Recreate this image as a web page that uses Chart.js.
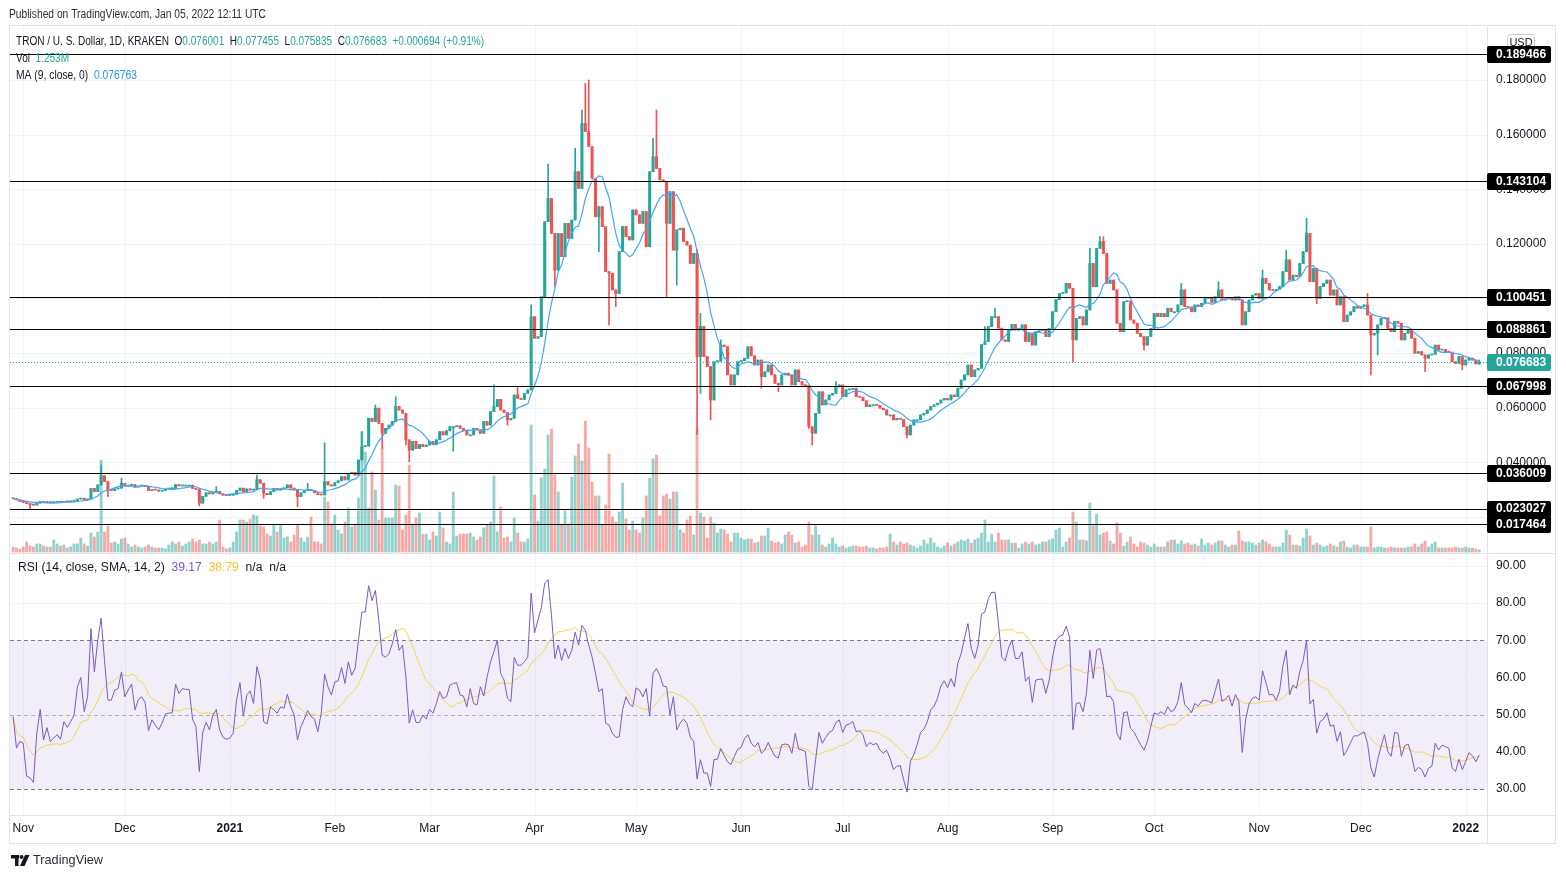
<!DOCTYPE html>
<html>
<head>
<meta charset="utf-8">
<title>TRON / U. S. Dollar, 1D, KRAKEN</title>
<script src="https://cdn.jsdelivr.net/npm/chart.js@4.4.1/dist/chart.umd.min.js"></script>
<style>
  html, body { margin: 0; padding: 0; background: #fff; }
  #wrap { position: relative; width: 1566px; height: 878px; }
</style>
</head>
<body>
<div id="wrap"><canvas id="chart" width="1566" height="878"></canvas></div>
<script>
// daily closes, 29 Oct 2020 .. 05 Jan 2022
const closes = [
  0.0266, 0.0262, 0.0256, 0.0252, 0.0248, 0.0245, 0.0243, 0.0250, 0.0256, 0.0252,
  0.0255, 0.0252, 0.0253, 0.0254, 0.0253, 0.0256, 0.0255, 0.0257, 0.0259, 0.0265,
  0.0268, 0.0262, 0.0264, 0.0304, 0.0292, 0.0317, 0.0350, 0.0329, 0.0298, 0.0296,
  0.0302, 0.0305, 0.0323, 0.0312, 0.0315, 0.0318, 0.0309, 0.0313, 0.0314, 0.0311,
  0.0296, 0.0300, 0.0298, 0.0294, 0.0297, 0.0302, 0.0303, 0.0304, 0.0318, 0.0313,
  0.0316, 0.0316, 0.0316, 0.0304, 0.0300, 0.0250, 0.0275, 0.0288, 0.0284, 0.0290,
  0.0293, 0.0284, 0.0279, 0.0278, 0.0279, 0.0282, 0.0296, 0.0305, 0.0292, 0.0302,
  0.0298, 0.0300, 0.0336, 0.0323, 0.0286, 0.0281, 0.0292, 0.0304, 0.0298, 0.0301,
  0.0306, 0.0317, 0.0305, 0.0298, 0.0274, 0.0288, 0.0296, 0.0301, 0.0296, 0.0288,
  0.0281, 0.0280, 0.0329, 0.0317, 0.0313, 0.0325, 0.0332, 0.0347, 0.0335, 0.0359,
  0.0362, 0.0353, 0.0408, 0.0457, 0.0459, 0.0561, 0.0549, 0.0598, 0.0542, 0.0506,
  0.0524, 0.0536, 0.0549, 0.0604, 0.0591, 0.0579, 0.0482, 0.0444, 0.0476, 0.0450,
  0.0465, 0.0457, 0.0463, 0.0476, 0.0465, 0.0482, 0.0512, 0.0500, 0.0515, 0.0530,
  0.0530, 0.0533, 0.0524, 0.0515, 0.0500, 0.0500, 0.0524, 0.0518, 0.0506, 0.0549,
  0.0536, 0.0585, 0.0604, 0.0630, 0.0591, 0.0582, 0.0555, 0.0561, 0.0646, 0.0634,
  0.0630, 0.0652, 0.0665, 0.0933, 0.0854, 0.0860, 0.1006, 0.1281, 0.1366, 0.1238,
  0.1104, 0.1238, 0.1153, 0.1275, 0.1220, 0.1287, 0.1464, 0.1403, 0.1641, 0.1611,
  0.1556, 0.1440, 0.1299, 0.1336, 0.1263, 0.1098, 0.1092, 0.1031, 0.1018, 0.1171,
  0.1263, 0.1226, 0.1214, 0.1324, 0.1306, 0.1275, 0.1318, 0.1189, 0.1464, 0.1519,
  0.1476, 0.1434, 0.1428, 0.1275, 0.1391, 0.1177, 0.1251, 0.1257, 0.1208, 0.1195,
  0.1128, 0.1165, 0.0787, 0.0897, 0.0787, 0.0750, 0.0628, 0.0768, 0.0770, 0.0829,
  0.0823, 0.0720, 0.0683, 0.0720, 0.0768, 0.0772, 0.0781, 0.0823, 0.0790, 0.0756,
  0.0774, 0.0713, 0.0731, 0.0756, 0.0720, 0.0689, 0.0683, 0.0720, 0.0726, 0.0720,
  0.0683, 0.0738, 0.0695, 0.0683, 0.0680, 0.0530, 0.0506, 0.0579, 0.0658, 0.0610,
  0.0628, 0.0646, 0.0652, 0.0676, 0.0683, 0.0640, 0.0665, 0.0667, 0.0671, 0.0640,
  0.0638, 0.0625, 0.0604, 0.0610, 0.0610, 0.0608, 0.0598, 0.0592, 0.0573, 0.0573,
  0.0555, 0.0561, 0.0557, 0.0530, 0.0500, 0.0536, 0.0555, 0.0555, 0.0573, 0.0579,
  0.0591, 0.0604, 0.0610, 0.0616, 0.0628, 0.0634, 0.0628, 0.0646, 0.0640, 0.0671,
  0.0701, 0.0720, 0.0756, 0.0713, 0.0738, 0.0744, 0.0831, 0.0842, 0.0897, 0.0933,
  0.0933, 0.0891, 0.0848, 0.0842, 0.0884, 0.0905, 0.0884, 0.0886, 0.0903, 0.0842,
  0.0872, 0.0829, 0.0878, 0.0882, 0.0884, 0.0860, 0.0890, 0.0951, 0.0996, 0.1018,
  0.1020, 0.1055, 0.1037, 0.0848, 0.0927, 0.0933, 0.0903, 0.0958, 0.1128, 0.1043,
  0.1183, 0.1208, 0.1165, 0.1055, 0.1067, 0.1031, 0.0909, 0.0878, 0.0988, 0.0990,
  0.0921, 0.0909, 0.0872, 0.0860, 0.0829, 0.0860, 0.0890, 0.0945, 0.0933, 0.0945,
  0.0933, 0.0964, 0.0951, 0.0951, 0.0976, 0.1031, 0.0970, 0.0968, 0.0951, 0.0976,
  0.0970, 0.0982, 0.1000, 0.1003, 0.0985, 0.1006, 0.1031, 0.0994, 0.0998, 0.1002,
  0.0994, 0.1006, 0.0994, 0.0903, 0.0951, 0.0994, 0.1012, 0.1018, 0.1000, 0.1073,
  0.1055, 0.1031, 0.1028, 0.1033, 0.1043, 0.1098, 0.1141, 0.1067, 0.1085, 0.1080,
  0.1128, 0.1171, 0.1238, 0.1061, 0.1110, 0.1000, 0.1043, 0.1055, 0.1067, 0.1012,
  0.1031, 0.0976, 0.1006, 0.0915, 0.0939, 0.0951, 0.0970, 0.0964, 0.0970, 0.0976,
  0.0939, 0.0866, 0.0872, 0.0903, 0.0927, 0.0929, 0.0890, 0.0878, 0.0915, 0.0909,
  0.0848, 0.0872, 0.0884, 0.0854, 0.0799, 0.0805, 0.0793, 0.0781, 0.0793, 0.0795,
  0.0829, 0.0811, 0.0813, 0.0805, 0.0803, 0.0768, 0.0762, 0.0787, 0.0756, 0.0774,
  0.0781, 0.0774, 0.075989, 0.076683
];
const firstOpen = 0.0268;
const lastOpen = 0.076001;

// wick extremes that stand out from the bodies: [day index, price]
const wickHighs = [
  [26, 0.0390], [32, 0.0342], [60, 0.0310], [72, 0.0353], [87, 0.0323], [92, 0.0471],
  [103, 0.0512], [107, 0.0610], [113, 0.0640], [142, 0.0683], [149, 0.0676], [153, 0.0976],
  [158, 0.1492], [166, 0.1550], [168, 0.1690], [169, 0.1788], [170, 0.1800], [189, 0.1586],
  [190, 0.1690], [202, 0.1180], [203, 0.0945], [209, 0.0848], [243, 0.0695], [287, 0.0897],
  [290, 0.0964], [318, 0.1183], [321, 0.1226], [322, 0.1226], [345, 0.1055], [356, 0.1061],
  [369, 0.1104], [376, 0.1177], [382, 0.1293], [400, 0.1018], [433, 0.077455]
];
const wickLows = [
  [5, 0.0231], [28, 0.0274], [55, 0.0240], [74, 0.0268], [84, 0.0237], [109, 0.0451],
  [116, 0.0463], [117, 0.0402], [130, 0.0440], [146, 0.0536], [160, 0.1043], [173, 0.1171],
  [176, 0.0903], [178, 0.0970], [193, 0.1006], [196, 0.1049], [202, 0.0502], [203, 0.0652],
  [206, 0.0555], [221, 0.0671], [226, 0.0658], [235, 0.0524], [236, 0.0463], [264, 0.0488],
  [313, 0.0768], [334, 0.0811], [385, 0.0980], [401, 0.0720], [403, 0.0793], [417, 0.0732],
  [428, 0.0738], [433, 0.075835]
];

// volume, millions
const volumes = [
  3.0, 2.4, 1.8, 3.0, 6.0, 3.6, 3.0, 4.8, 4.8, 3.6,
  3.0, 3.0, 7.2, 4.8, 3.6, 4.2, 2.4, 3.0, 4.8, 4.8,
  8.4, 4.8, 3.6, 11.4, 9.0, 12.0, 55.2, 12.0, 15.6, 5.4,
  6.0, 4.8, 7.8, 8.4, 4.8, 3.0, 4.2, 3.0, 2.4, 3.0,
  4.2, 3.0, 2.4, 2.4, 2.4, 1.8, 4.2, 6.0, 4.8, 6.0,
  3.6, 4.8, 6.0, 7.8, 6.0, 7.2, 4.8, 4.8, 6.0, 4.8,
  6.0, 19.2, 3.0, 1.8, 2.4, 6.0, 12.0, 19.2, 19.2, 18.0,
  19.8, 22.2, 21.6, 15.6, 15.0, 10.8, 9.6, 16.2, 12.0, 16.2,
  8.4, 9.0, 6.0, 10.2, 16.8, 8.4, 6.0, 9.0, 21.0, 6.0,
  6.0, 4.8, 33.0, 30.0, 16.8, 22.2, 13.2, 10.8, 18.0, 26.4,
  15.0, 16.8, 32.4, 72.0, 60.0, 26.4, 48.0, 37.2, 19.2, 62.4,
  20.4, 20.4, 20.4, 40.2, 39.6, 13.2, 22.2, 52.2, 16.2, 20.4,
  23.4, 10.8, 10.8, 7.2, 12.0, 9.6, 24.0, 14.4, 6.0, 4.8,
  36.0, 9.6, 10.8, 10.8, 10.8, 11.4, 9.0, 7.2, 9.0, 14.4,
  16.2, 18.0, 45.6, 12.0, 27.0, 8.4, 9.0, 6.0, 20.4, 11.4,
  6.0, 6.0, 7.8, 76.2, 34.2, 18.6, 44.4, 49.8, 70.2, 73.8,
  46.2, 36.0, 16.8, 24.6, 16.8, 45.0, 57.6, 64.8, 54.6, 78.6,
  62.4, 42.0, 33.6, 33.6, 16.2, 28.2, 58.8, 21.0, 18.0, 24.0,
  41.4, 19.8, 13.2, 18.6, 13.2, 11.4, 20.4, 33.6, 44.4, 55.8,
  58.2, 21.6, 33.6, 34.8, 31.8, 36.0, 36.0, 13.2, 11.4, 19.2,
  21.6, 10.2, 74.4, 23.4, 21.0, 8.4, 21.0, 17.4, 11.4, 13.8,
  13.2, 10.8, 6.0, 11.4, 11.4, 8.4, 7.2, 7.8, 7.8, 5.4,
  6.0, 9.6, 9.6, 14.4, 6.6, 5.4, 6.0, 4.8, 10.2, 12.0,
  10.2, 5.4, 6.0, 3.0, 4.2, 18.0, 10.2, 15.6, 10.2, 4.2,
  3.0, 4.8, 8.4, 4.8, 3.0, 3.6, 2.4, 3.0, 3.6, 3.6,
  3.0, 3.0, 3.6, 2.4, 2.4, 1.8, 2.4, 2.4, 3.0, 10.8,
  6.0, 4.2, 6.0, 4.8, 5.4, 4.2, 3.6, 2.4, 3.6, 7.2,
  4.8, 8.4, 5.4, 3.0, 2.4, 3.6, 5.4, 3.6, 4.8, 6.0,
  7.2, 6.6, 7.8, 5.4, 7.2, 8.4, 11.4, 19.2, 6.0, 10.8,
  6.0, 11.4, 7.2, 7.2, 7.2, 5.4, 5.4, 2.4, 4.8, 6.0,
  4.8, 6.0, 4.2, 4.8, 6.0, 6.0, 7.2, 7.8, 13.2, 14.4,
  3.0, 6.0, 8.4, 24.0, 18.0, 7.2, 7.2, 6.6, 29.4, 15.6,
  22.8, 10.2, 11.4, 12.0, 6.6, 4.8, 17.4, 11.4, 3.6, 6.0,
  9.0, 4.8, 3.0, 6.0, 5.4, 4.2, 3.0, 4.8, 3.0, 3.0,
  3.0, 6.0, 7.2, 7.2, 4.8, 6.6, 4.8, 5.4, 4.2, 4.8,
  3.6, 7.8, 4.2, 5.4, 4.2, 5.4, 6.6, 6.6, 4.2, 3.0,
  4.2, 4.2, 12.6, 6.6, 6.0, 6.0, 5.4, 4.2, 5.4, 7.2,
  6.0, 4.8, 3.0, 3.0, 3.0, 5.4, 13.2, 10.2, 4.2, 4.2,
  3.6, 8.4, 13.8, 9.6, 4.2, 5.4, 4.2, 3.0, 3.6, 4.8,
  3.6, 3.0, 6.0, 6.6, 3.0, 2.4, 4.2, 4.2, 3.0, 3.0,
  3.0, 15.0, 2.4, 3.0, 3.0, 2.4, 2.4, 3.0, 2.4, 2.4,
  2.4, 2.4, 3.0, 3.0, 4.8, 3.0, 4.8, 6.6, 3.0, 4.8,
  6.0, 2.4, 2.4, 2.4, 2.4, 2.4, 3.0, 2.4, 2.4, 3.0,
  2.4, 2.4, 1.8, 1.253
];

// RSI(14) as plotted
const rsi = [
  49.5, 41.0, 42.8, 42.3, 33.4, 33.0, 31.8, 45.0, 51.4, 43.2,
  46.5, 42.8, 43.7, 44.6, 43.4, 48.1, 46.6, 48.1, 49.9, 57.5,
  60.0, 50.8, 54.8, 73.1, 61.5, 70.0, 76.0, 64.6, 53.9, 53.9,
  56.6, 57.0, 61.5, 54.8, 56.6, 58.2, 51.3, 54.1, 54.8, 53.2,
  45.7, 48.6, 47.2, 45.9, 47.7, 50.2, 50.4, 50.5, 58.2, 55.7,
  57.0, 56.8, 56.8, 48.8, 46.8, 34.7, 45.2, 47.9, 45.9, 49.9,
  51.4, 45.9, 43.9, 43.4, 43.7, 45.0, 53.9, 58.6, 49.6, 55.2,
  56.4, 53.0, 62.9, 59.5, 48.1, 47.5, 52.1, 51.3, 50.4, 52.1,
  51.7, 55.5, 52.1, 49.9, 43.2, 46.8, 48.8, 51.1, 49.5, 48.8,
  45.4, 50.4, 60.9, 57.5, 55.3, 58.8, 59.1, 62.7, 58.4, 64.2,
  60.6, 62.4, 70.0, 77.6, 77.6, 84.7, 80.7, 83.4, 75.4, 66.0,
  65.5, 66.4, 69.1, 72.9, 67.3, 68.7, 60.2, 47.7, 51.3, 47.9,
  47.9, 49.9, 48.8, 51.4, 50.4, 53.0, 56.2, 54.4, 54.8, 57.9,
  58.4, 58.6, 55.3, 55.0, 52.1, 57.0, 53.0, 52.6, 57.5, 55.0,
  60.2, 64.2, 66.9, 70.0, 61.1, 59.3, 54.4, 53.5, 65.4, 63.3,
  63.3, 64.2, 65.5, 82.7, 72.0, 75.4, 78.8, 85.4, 86.3, 76.7,
  65.1, 68.7, 64.6, 67.8, 65.1, 67.3, 72.2, 68.7, 74.0, 72.7,
  68.7, 65.5, 61.1, 56.2, 57.0, 47.7, 47.2, 45.0, 43.9, 44.0,
  51.3, 54.8, 52.9, 52.1, 57.2, 56.6, 54.8, 57.0, 49.6, 61.1,
  62.4, 60.6, 57.7, 57.5, 49.9, 54.8, 45.9, 47.7, 48.8, 47.7,
  44.0, 42.8, 32.7, 37.9, 34.3, 34.3, 30.7, 37.9, 38.0, 40.9,
  39.0, 37.3, 36.6, 38.7, 40.7, 41.2, 43.5, 44.6, 42.3, 41.3,
  42.5, 39.6, 40.5, 42.5, 40.5, 38.8, 38.3, 41.9, 42.1, 41.9,
  39.6, 45.0, 40.7, 40.5, 40.1, 30.7, 29.8, 37.9, 45.2, 42.3,
  43.9, 45.2, 45.7, 47.9, 48.6, 45.2, 47.2, 47.5, 48.1, 45.4,
  45.7, 44.6, 41.4, 42.5, 41.9, 42.3, 40.5, 39.6, 40.4, 38.3,
  35.2, 36.1, 36.3, 32.5, 29.2, 37.4, 39.2, 41.9, 45.2, 46.1,
  48.1, 51.3, 52.3, 54.4, 57.7, 59.1, 57.3, 59.7, 57.5, 63.8,
  66.4, 70.7, 74.5, 67.8, 65.1, 68.7, 77.1, 77.6, 81.2, 82.9,
  82.9, 74.5, 65.4, 64.5, 68.0, 70.0, 65.1, 65.1, 66.9, 59.0,
  60.2, 53.3, 59.3, 59.5, 59.6, 55.7, 59.3, 65.5, 70.0, 71.1,
  71.4, 73.8, 70.9, 45.9, 53.0, 53.2, 50.8, 55.7, 67.3, 59.7,
  67.3, 67.8, 62.9, 54.8, 55.0, 53.5, 45.0, 43.2, 50.5, 50.8,
  46.3, 45.4, 43.6, 41.9, 40.5, 42.8, 46.8, 50.5, 50.0, 50.8,
  50.0, 52.1, 50.8, 51.4, 53.5, 58.6, 52.7, 51.8, 50.5, 53.0,
  52.3, 53.6, 53.9, 53.6, 53.2, 56.3, 59.6, 53.6, 54.1, 55.2,
  52.3, 55.4, 53.6, 39.8, 48.6, 52.9, 54.4, 54.8, 53.9, 61.8,
  58.6, 55.3, 55.5, 53.9, 56.2, 63.0, 67.3, 55.3, 58.0, 57.1,
  61.6, 64.6, 70.0, 52.9, 54.1, 45.0, 48.1, 48.8, 50.5, 46.9,
  47.2, 42.8, 45.4, 39.0, 40.5, 42.5, 44.3, 44.3, 44.8, 45.4,
  42.3, 35.6, 33.2, 37.9, 41.4, 44.6, 40.1, 38.8, 45.2, 45.0,
  38.8, 41.6, 42.1, 39.2, 34.7, 35.8, 35.3, 33.2, 35.6, 36.1,
  42.3, 40.5, 41.8, 41.4, 41.0, 35.6, 34.7, 38.0, 35.2, 37.4,
  39.8, 38.9, 37.3, 39.17
];

// horizontal levels drawn on the chart
const levels = [0.189466, 0.143104, 0.100451, 0.088861, 0.067998, 0.036009, 0.023027, 0.017464];
const priceTicks = [0.18, 0.16, 0.14, 0.12, 0.10, 0.08, 0.06, 0.04, 0.02];
const rsiTicks = [90, 80, 70, 60, 50, 40, 30];
const monthIdx = [3, 33, 64, 95, 123, 154, 184, 215, 245, 276, 307, 337, 368, 398, 429];
const monthLabels = ['Nov', 'Dec', '2021', 'Feb', 'Mar', 'Apr', 'May', 'Jun', 'Jul', 'Aug', 'Sep', 'Oct', 'Nov', 'Dec', '2022'];

// ---- derived series ----
const n = closes.length;
const idx = closes.map((c, i) => i);
const opens = closes.map((c, i) => i === 0 ? firstOpen : closes[i - 1]);
opens[n - 1] = lastOpen;
const highs = closes.map((c, i) => Math.max(c, opens[i]));
const lows = closes.map((c, i) => Math.min(c, opens[i]));
wickHighs.forEach(function (p) { highs[p[0]] = Math.max(highs[p[0]], p[1]); });
wickLows.forEach(function (p) { lows[p[0]] = Math.min(lows[p[0]], p[1]); });

function sma(arr, len) {
  return arr.map(function (v, i) {
    var from = Math.max(0, i - len + 1), s = 0;
    for (var k = from; k <= i; k++) s += arr[k];
    return s / (i - from + 1);
  });
}
const ma9 = sma(closes, 9);
const rsiMa = sma(rsi, 14);

const UP = '#26a69a', DOWN = '#ef5350';
const candleCol = idx.map(i => closes[i] >= opens[i] ? UP : DOWN);
const volCol = idx.map(i => closes[i] >= opens[i] ? 'rgba(38,166,154,0.5)' : 'rgba(239,83,80,0.5)');

const FONT = '"Liberation Sans", Arial, sans-serif';
const TXT = '#131722';
const LINE = '#e0e3eb';
const GRID = '#f0f3fa';

// pane geometry (pixels)
const PANE_L = 10, PANE_R = 1487, TOP = 26, PRICE_BOTTOM = 553, BOTTOM = 815, FRAME_B = 843, FRAME_R = 1555;

function segText(ctx, segs, x, y, width, font) {
  ctx.save();
  ctx.font = font;
  ctx.textBaseline = 'middle';
  ctx.textAlign = 'left';
  var total = 0;
  segs.forEach(function (g) { total += ctx.measureText(g[0]).width; });
  var k = width ? width / total : 1;
  ctx.translate(x, y);
  ctx.scale(k, 1);
  var cx = 0;
  segs.forEach(function (g) {
    ctx.fillStyle = g[1];
    ctx.fillText(g[0], cx, 0);
    cx += ctx.measureText(g[0]).width;
  });
  ctx.restore();
}

function hline(ctx, y, x0, x1, color, dash, width) {
  ctx.save();
  ctx.strokeStyle = color;
  ctx.lineWidth = width || 1;
  ctx.setLineDash(dash || []);
  ctx.beginPath();
  var yy = Math.round(y) + 0.5;
  ctx.moveTo(x0, yy); ctx.lineTo(x1, yy);
  ctx.stroke();
  ctx.restore();
}
function vline(ctx, x, y0, y1, color) {
  ctx.save();
  ctx.strokeStyle = color;
  ctx.lineWidth = 1;
  ctx.beginPath();
  var xx = Math.round(x) + 0.5;
  ctx.moveTo(xx, y0); ctx.lineTo(xx, y1);
  ctx.stroke();
  ctx.restore();
}

const tvChrome = {
  id: 'tvChrome',
  beforeDraw(chart) {
    const ctx = chart.ctx, s = chart.scales;
    ctx.save();
    ctx.fillStyle = '#fff';
    ctx.fillRect(0, 0, chart.width, chart.height);
    // vertical grid
    monthIdx.forEach(i => vline(ctx, s.x.getPixelForValue(i), TOP, BOTTOM, GRID));
    // price grid
    priceTicks.forEach(v => hline(ctx, s.y.getPixelForValue(v), PANE_L, PANE_R, GRID));
    // rsi band + grid
    const y70 = s.yRsi.getPixelForValue(70), y30 = s.yRsi.getPixelForValue(30);
    ctx.fillStyle = 'rgba(126,87,194,0.1)';
    ctx.fillRect(PANE_L, y70, PANE_R - PANE_L, y30 - y70);
    [90, 80, 60, 40].forEach(v => hline(ctx, s.yRsi.getPixelForValue(v), PANE_L, PANE_R, GRID));
    hline(ctx, y70, PANE_L, PANE_R, '#787b86', [4, 3]);
    hline(ctx, s.yRsi.getPixelForValue(50), PANE_L, PANE_R, 'rgba(120,123,134,0.55)', [4, 3]);
    hline(ctx, y30, PANE_L, PANE_R, '#787b86', [4, 3]);
    ctx.restore();
  },
  afterDatasetsDraw(chart) {
    const ctx = chart.ctx, s = chart.scales;
    // level lines
    levels.forEach(v => hline(ctx, s.y.getPixelForValue(v), PANE_L, PANE_R, '#000'));
    // last price dotted line
    const lastY = s.y.getPixelForValue(closes[n - 1]);
    hline(ctx, lastY, PANE_L, PANE_R, UP, [1, 2]);

    ctx.save();
    // clear axis column and time row
    ctx.fillStyle = '#fff';
    ctx.fillRect(PANE_R + 1, TOP, FRAME_R - PANE_R - 1, FRAME_B - TOP);
    ctx.fillRect(PANE_L, BOTTOM + 1, PANE_R - PANE_L, FRAME_B - BOTTOM - 1);

    // pane borders
    hline(ctx, PRICE_BOTTOM, PANE_L, FRAME_R, LINE);
    hline(ctx, BOTTOM, PANE_L, FRAME_R, LINE);
    vline(ctx, PANE_R, TOP, FRAME_B, LINE);
    ctx.strokeStyle = LINE;
    ctx.lineWidth = 1;
    ctx.strokeRect(9.5, 25.5, FRAME_R - 9, FRAME_B - 25);

    // price axis ticks
    ctx.font = '12px ' + FONT;
    ctx.textBaseline = 'middle';
    ctx.textAlign = 'left';
    ctx.fillStyle = TXT;
    priceTicks.forEach(v => ctx.fillText(v.toFixed(6), 1496, s.y.getPixelForValue(v)));
    rsiTicks.forEach(v => ctx.fillText(v.toFixed(2), 1496, s.yRsi.getPixelForValue(v)));

    // USD badge
    ctx.strokeStyle = '#c9cbd1';
    ctx.fillStyle = '#fff';
    ctx.beginPath();
    ctx.roundRect(1507.5, 34.5, 27, 15, 3);
    ctx.fill(); ctx.stroke();
    ctx.fillStyle = TXT;
    ctx.font = '11px ' + FONT;
    ctx.textAlign = 'center';
    ctx.fillText('USD', 1521, 42.5);

    // level labels
    ctx.textAlign = 'left';
    ctx.font = 'bold 12px ' + FONT;
    levels.forEach(v => {
      const py = s.y.getPixelForValue(v);
      ctx.fillStyle = '#000';
      ctx.beginPath();
      ctx.roundRect(1487, Math.round(py) - 8, 64, 17, 2);
      ctx.fill();
      ctx.fillStyle = '#fff';
      ctx.fillText(v.toFixed(6), 1496, py + 0.5);
    });
    ctx.fillStyle = UP;
    ctx.beginPath();
    ctx.roundRect(1487, Math.round(lastY) - 8, 64, 17, 2);
    ctx.fill();
    ctx.fillStyle = '#fff';
    ctx.fillText(closes[n - 1].toFixed(6), 1496, lastY + 0.5);

    // time axis
    ctx.textAlign = 'center';
    monthIdx.forEach((i, k) => {
      const yr = /^\d{4}$/.test(monthLabels[k]);
      ctx.font = (yr ? 'bold ' : '') + '12px ' + FONT;
      ctx.fillStyle = TXT;
      ctx.fillText(monthLabels[k], s.x.getPixelForValue(i), 829);
    });
    ctx.restore();

    // legends
    const f12 = '12px ' + FONT;
    segText(ctx, [['Published on TradingView.com, Jan 05, 2022 12:11 UTC', '#2a2e39']], 9, 14.5, 257, f12);
    const chg = closes[n - 1] - closes[n - 2];
    segText(ctx, [
      ['TRON / U. S. Dollar, 1D, KRAKEN  O', TXT], [lastOpen.toFixed(6), UP],
      ['  H', TXT], [highs[n - 1].toFixed(6), UP],
      ['  L', TXT], [lows[n - 1].toFixed(6), UP],
      ['  C', TXT], [closes[n - 1].toFixed(6), UP],
      ['  +' + chg.toFixed(6) + ' (+' + (chg / closes[n - 2] * 100).toFixed(2) + '%)', UP]
    ], 16, 41.5, 468, f12);
    segText(ctx, [['Vol  ', TXT], [volumes[n - 1].toFixed(3) + 'M', UP]], 16, 58.5, 53, f12);
    segText(ctx, [['MA (9, close, 0)  ', TXT], ['0.076763', '#2196f3']], 16, 75.5, 121, f12);
    segText(ctx, [['RSI (14, close, SMA, 14, 2)  ', TXT], [rsi[n - 1].toFixed(2), '#7e57c2'],
      ['  ', TXT], [rsiMa[n - 1].toFixed(2), '#f0c929'], ['  n/a  n/a', TXT]], 18, 568, 268, f12);

    // TradingView logo
    ctx.save();
    ctx.fillStyle = '#131722';
    ctx.fillRect(11, 855, 8, 3.5);
    ctx.fillRect(15, 855, 3.5, 11);
    ctx.beginPath(); ctx.arc(21.5, 857, 2, 0, Math.PI * 2); ctx.fill();
    ctx.beginPath();
    ctx.moveTo(25, 855); ctx.lineTo(29.5, 855); ctx.lineTo(24.5, 866); ctx.lineTo(20, 866);
    ctx.closePath(); ctx.fill();
    ctx.restore();
    segText(ctx, [['TradingView', '#2a2e39']], 33, 860.5, 70, '13px ' + FONT);
  }
};

const ctx = document.getElementById('chart').getContext('2d');
const chart = new Chart(ctx, {
  type: 'bar',
  data: {
    datasets: [
      {
        type: 'line', label: 'RSI', yAxisID: 'yRsi',
        data: idx.map(i => ({ x: i, y: rsi[i] })),
        borderColor: '#7e57c2', borderWidth: 1, pointRadius: 0, tension: 0, order: 1
      },
      {
        type: 'line', label: 'RSI MA', yAxisID: 'yRsi',
        data: idx.map(i => ({ x: i, y: rsiMa[i] })),
        borderColor: '#f5d547', borderWidth: 1, pointRadius: 0, tension: 0, order: 2
      },
      {
        type: 'line', label: 'MA 9', yAxisID: 'y',
        data: idx.map(i => ({ x: i, y: ma9[i] })),
        borderColor: '#42a5f5', borderWidth: 1.2, pointRadius: 0, tension: 0, order: 3
      },
      {
        label: 'Body', yAxisID: 'y',
        data: idx.map(i => ({ x: i, y: [opens[i], closes[i]] })),
        backgroundColor: candleCol, borderWidth: 0, barThickness: 2.4, minBarLength: 1,
        grouped: false, order: 4
      },
      {
        label: 'Wick', yAxisID: 'y',
        data: idx.map(i => ({ x: i, y: [lows[i], highs[i]] })),
        backgroundColor: candleCol, borderWidth: 0, barThickness: 1, grouped: false, order: 5
      },
      {
        label: 'Vol', yAxisID: 'yVol',
        data: idx.map(i => ({ x: i, y: volumes[i] })),
        backgroundColor: volCol, borderWidth: 0, barThickness: 2.2, grouped: false, order: 6
      }
    ]
  },
  options: {
    responsive: false,
    devicePixelRatio: 1,
    animation: false,
    events: [],
    layout: { padding: { left: PANE_L, right: 1566 - PANE_R, top: TOP, bottom: 878 - BOTTOM } },
    plugins: { legend: { display: false }, tooltip: { enabled: false } },
    scales: {
      x: { type: 'linear', min: -0.9155, max: 435.29, offset: false, display: false },
      y: { min: -0.089231, max: 0.19978, display: false },
      yVol: { min: -157.8, max: 315.6, display: false },
      yRsi: { min: 23.0, max: 235.29, display: false }
    }
  },
  plugins: [tvChrome]
});
</script>
</body>
</html>
